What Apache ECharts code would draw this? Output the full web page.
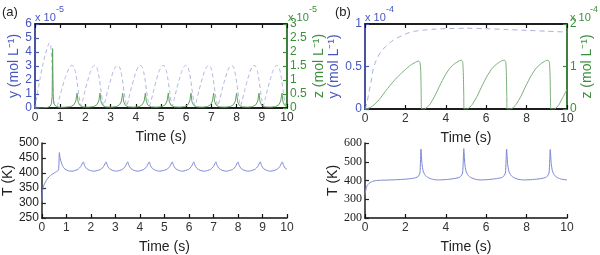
<!DOCTYPE html>
<html>
<head>
<meta charset="utf-8">
<script src="https://cdn.jsdelivr.net/npm/echarts@6/dist/echarts.min.js"></script>
<style>
html, body { margin: 0; padding: 0; background: #fff; }
#chart { width: 600px; height: 255px; }
</style>
</head>
<body>
<div id="chart"></div>
<script>
// (a) y, x10^-5 mol/L, left axis
var yA = [[0,0],[0.1,1.1],[0.2,2.1],[0.3,3.0],[0.4,3.8],[0.5,4.35],[0.57,4.65],[0.62,4.5],[0.67,3.3],[0.71,1.6],[0.75,0.5],[0.8,0.1],
  [0.88,0.15],[0.98,0.8],[1.08,1.45],[1.18,2.05],[1.28,2.55],[1.37,2.9],[1.46,3.05],[1.54,2.95],[1.6,2.6],[1.66,2.0],[1.72,1.2],[1.78,0.5],[1.83,0.15],
  [1.9,0.6],[2.0,1.35],[2.1,2.0],[2.2,2.6],[2.28,2.9],[2.36,3.05],[2.44,2.95],[2.5,2.6],[2.56,2.0],[2.62,1.2],[2.68,0.5],[2.73,0.15],
  [2.8,0.6],[2.9,1.35],[3.0,2.0],[3.1,2.6],[3.18,2.9],[3.27,3.05],[3.35,2.95],[3.41,2.6],[3.47,2.0],[3.53,1.2],[3.59,0.5],[3.64,0.15],
  [3.71,0.6],[3.81,1.35],[3.91,2.0],[4.01,2.6],[4.09,2.9],[4.17,3.05],[4.25,2.95],[4.31,2.6],[4.37,2.0],[4.43,1.2],[4.49,0.5],[4.54,0.15],
  [4.62,0.6],[4.72,1.35],[4.82,2.0],[4.92,2.6],[5.0,2.9],[5.08,3.05],[5.16,2.95],[5.22,2.6],[5.28,2.0],[5.34,1.2],[5.4,0.5],[5.45,0.15],
  [5.52,0.6],[5.62,1.35],[5.72,2.0],[5.82,2.6],[5.9,2.9],[5.98,3.05],[6.06,2.95],[6.12,2.6],[6.18,2.0],[6.24,1.2],[6.3,0.5],[6.35,0.15],
  [6.42,0.6],[6.52,1.35],[6.62,2.0],[6.72,2.6],[6.8,2.9],[6.88,3.05],[6.96,2.95],[7.02,2.6],[7.08,2.0],[7.14,1.2],[7.2,0.5],[7.25,0.15],
  [7.33,0.6],[7.43,1.35],[7.53,2.0],[7.63,2.6],[7.71,2.9],[7.79,3.05],[7.87,2.95],[7.93,2.6],[7.99,2.0],[8.05,1.2],[8.11,0.5],[8.16,0.15],
  [8.23,0.6],[8.33,1.35],[8.43,2.0],[8.53,2.6],[8.61,2.9],[8.69,3.05],[8.77,2.95],[8.83,2.6],[8.89,2.0],[8.95,1.2],[9.01,0.5],[9.06,0.15],
  [9.13,0.6],[9.23,1.35],[9.33,2.0],[9.43,2.6],[9.51,2.9],[9.59,3.05],[9.67,2.95],[9.73,2.6],[9.79,2.0],[9.85,1.2],[9.91,0.5],[9.96,0.15],[10,0.3]];

// (a) z, x10^-5 mol/L, right axis
var zA = [[0,0],[0.3,0.005],[0.5,0.02],[0.6,0.06],[0.65,0.15],[0.68,0.4],[0.7,2.12],[0.72,0.4],[0.75,0.15],[0.85,0.05],[1.0,0.02],[1.2,0.03],
  [1.42,0.05],[1.55,0.12],[1.62,0.25],[1.67,0.53],[1.71,0.22],[1.78,0.09],[1.9,0.04],[2.12,0.03],
  [2.33,0.05],[2.46,0.12],[2.53,0.25],[2.58,0.53],[2.62,0.22],[2.69,0.09],[2.81,0.04],[3.03,0.03],
  [3.23,0.05],[3.36,0.12],[3.43,0.25],[3.48,0.53],[3.52,0.22],[3.59,0.09],[3.71,0.04],[3.93,0.03],
  [4.13,0.05],[4.26,0.12],[4.33,0.25],[4.38,0.53],[4.42,0.22],[4.49,0.09],[4.61,0.04],[4.83,0.03],
  [5.04,0.05],[5.17,0.12],[5.24,0.25],[5.29,0.53],[5.33,0.22],[5.4,0.09],[5.52,0.04],[5.74,0.03],
  [5.94,0.05],[6.07,0.12],[6.14,0.25],[6.19,0.53],[6.23,0.22],[6.3,0.09],[6.42,0.04],[6.64,0.03],
  [6.84,0.05],[6.97,0.12],[7.04,0.25],[7.09,0.53],[7.13,0.22],[7.2,0.09],[7.32,0.04],[7.54,0.03],
  [7.75,0.05],[7.88,0.12],[7.95,0.25],[8.0,0.53],[8.04,0.22],[8.11,0.09],[8.23,0.04],[8.45,0.03],
  [8.64,0.05],[8.77,0.12],[8.84,0.25],[8.89,0.53],[8.93,0.22],[9.0,0.09],[9.12,0.04],[9.34,0.03],
  [9.55,0.05],[9.68,0.12],[9.75,0.25],[9.8,0.53],[9.84,0.22],[9.91,0.09],[10,0.05]];

// (a) T, K
var TA = [[0,305],[0.02,335],[0.05,352],[0.1,363],[0.2,378],[0.3,388],[0.4,395],[0.5,400],[0.6,405],[0.68,410],[0.71,468],[0.75,447],[0.82,428],[0.9,416],[1.0,410],[1.15,406],[1.3,407],
  [1.47,412],[1.59,422],[1.69,437],[1.74,425],[1.82,415],[1.94,409],[2.11,406],
  [2.4,412],[2.52,422],[2.62,437],[2.67,425],[2.75,415],[2.87,409],[3.04,406],
  [3.28,412],[3.4,422],[3.5,437],[3.55,425],[3.63,415],[3.75,409],[3.92,406],
  [4.16,412],[4.28,422],[4.38,437],[4.43,425],[4.51,415],[4.63,409],[4.8,406],
  [5.1,412],[5.22,422],[5.32,437],[5.37,425],[5.45,415],[5.57,409],[5.74,406],
  [5.98,412],[6.1,422],[6.2,437],[6.25,425],[6.33,415],[6.45,409],[6.62,406],
  [6.88,412],[7.0,422],[7.1,437],[7.15,425],[7.23,415],[7.35,409],[7.52,406],
  [7.78,412],[7.9,422],[8.0,437],[8.05,425],[8.13,415],[8.25,409],[8.42,406],
  [8.69,412],[8.81,422],[8.91,437],[8.96,425],[9.04,415],[9.16,409],[9.33,406],
  [9.59,412],[9.71,422],[9.81,437],[9.86,425],[9.94,415],[10,412]];

// (b) y, x10^-4 mol/L, left axis
var yB = [[0,0],[0.1,0.08],[0.2,0.2],[0.3,0.32],[0.4,0.46],[0.55,0.57],[0.75,0.66],[1.0,0.73],[1.4,0.81],[1.8,0.86],[2.2,0.9],[2.6,0.92],[3.0,0.93],[3.5,0.94],[4.0,0.945],[5.0,0.95],[6.0,0.945],[7.0,0.935],[8.0,0.925],[9.0,0.915],[10,0.905]];

// (b) z, x10^-4 mol/L, right axis
var zB = [[0,0],[0.25,0.03],[0.5,0.12],[0.75,0.25],[1.0,0.41],[1.25,0.56],[1.5,0.7],[1.75,0.82],[2.0,0.93],[2.25,1.03],[2.5,1.1],[2.65,1.13],[2.72,1.1],[2.76,0.9],[2.78,0.4],[2.8,0],[2.95,0],
  [3.2,0.1],[3.45,0.3],[3.7,0.55],[3.95,0.78],[4.2,0.96],[4.45,1.07],[4.65,1.13],[4.78,1.15],[4.84,1.1],[4.87,0.8],[4.89,0.3],[4.9,0],[5.06,0],
  [5.3,0.1],[5.55,0.3],[5.8,0.55],[6.05,0.78],[6.3,0.96],[6.55,1.07],[6.75,1.13],[6.9,1.15],[6.97,1.1],[7.0,0.8],[7.02,0.3],[7.03,0],[7.23,0],
  [7.47,0.1],[7.72,0.3],[7.97,0.55],[8.22,0.78],[8.47,0.96],[8.72,1.07],[8.92,1.13],[9.06,1.15],[9.13,1.1],[9.16,0.8],[9.18,0.3],[9.2,0],[9.38,0],
  [9.6,0.1],[9.8,0.28],[10,0.46]];

// (b) T, K
var TB = [[0,325],[0.05,355],[0.1,372],[0.2,385],[0.3,392],[0.45,398],[0.7,401],[1.0,402],[1.5,404],[2.0,407],[2.4,412],[2.62,420],[2.72,440],[2.77,567],[2.82,490],[2.88,450],[2.98,428],[3.13,415],[3.33,407],[3.6,403],
  [4.0,405],[4.4,410],[4.7,418],[4.83,440],[4.89,570],[4.94,490],[5.0,450],[5.1,428],[5.25,415],[5.45,407],[5.7,403],
  [6.1,405],[6.5,410],[6.82,418],[6.95,440],[7.01,567],[7.06,490],[7.12,450],[7.22,428],[7.37,415],[7.57,407],[7.84,403],
  [8.3,405],[8.7,410],[8.98,418],[9.11,440],[9.17,565],[9.22,490],[9.28,450],[9.38,428],[9.53,415],[9.73,407],[10,403]];

var BLUE = '#4657c0';
var GREEN = '#3d8f3d';
var FONT = 'Liberation Sans';

var chart = echarts.init(document.getElementById('chart'));

function xAx(grid, step, pos, labels, name) {
  return {
    type: 'value', gridIndex: grid, min: 0, max: 10, interval: step, position: pos,
    name: name || '', nameLocation: 'middle', nameGap: 22,
    nameTextStyle: { color: '#222', fontSize: 14, fontFamily: FONT },
    axisLine: { show: true, onZero: false, lineStyle: { color: '#111', width: 1.5 } },
    axisTick: { show: true, inside: true, length: 4, lineStyle: { color: '#111', width: 1.2 } },
    axisLabel: { show: labels, color: '#333', fontSize: 12, fontFamily: FONT, margin: 4 },
    splitLine: { show: false }
  };
}

function yAx(grid, min, max, step, pos, color, name, gap, labelFont) {
  return {
    type: 'value', gridIndex: grid, min: min, max: max, interval: step, position: pos,
    name: name, nameLocation: 'middle', nameGap: gap, nameRotate: 90,
    nameTextStyle: { color: color, fontSize: 14, fontFamily: FONT },
    axisLine: { show: true, onZero: false, lineStyle: { color: color, width: 1.5 } },
    axisTick: { show: true, inside: true, length: 4, lineStyle: { color: color, width: 1.2 } },
    axisLabel: { color: color, fontSize: 12, fontFamily: labelFont || FONT, margin: 3 },
    splitLine: { show: false }
  };
}

function txt(x, y, s, color, size) {
  return { type: 'text', left: x, top: y, style: { text: s, fill: color, font: size + 'px ' + FONT } };
}

var option = {
  animation: false,
  backgroundColor: '#fff',
  grid: [
    // top panels get a black frame (top edge), the coloured y axes draw over its sides
    { left: 35, top: 24, width: 252, height: 84, show: true, borderColor: '#111', borderWidth: 1.5, backgroundColor: 'transparent' },
    { left: 365, top: 24, width: 202, height: 85, show: true, borderColor: '#111', borderWidth: 1.5, backgroundColor: 'transparent' },
    { left: 35, top: 143, width: 252, height: 85 },
    { left: 365, top: 143, width: 202, height: 85 }
  ],
  xAxis: [
    xAx(0, 1, 'bottom', true, 'Time (s)'),
    xAx(0, 1, 'top', false),
    xAx(1, 2, 'bottom', true, 'Time (s)'),
    xAx(1, 2, 'top', false),
    xAx(2, 1, 'bottom', true, 'Time (s)'),
    xAx(3, 2, 'bottom', true, 'Time (s)')
  ],
  yAxis: [
    yAx(0, 0, 6, 1, 'left', BLUE, 'y (mol L⁻¹)', 12),
    yAx(0, 0, 3, 0.5, 'right', GREEN, 'z (mol L⁻¹)', 25),
    yAx(1, 0, 1, 0.5, 'left', BLUE, 'y (mol L⁻¹)', 18),
    yAx(1, 0, 2, 1, 'right', GREEN, 'z (mol L⁻¹)', 9),
    yAx(2, 250, 500, 50, 'left', '#222', 'T (K)', 26),
    yAx(3, 200, 600, 100, 'left', '#222', 'T (K)', 22, 'Liberation Serif')
  ],
  series: [
    { type: 'line', xAxisIndex: 0, yAxisIndex: 0, data: yA, showSymbol: false, smooth: 0.2,
      lineStyle: { color: '#b0b5de', width: 1, type: [4, 3] } },
    { type: 'line', xAxisIndex: 0, yAxisIndex: 1, data: zA, showSymbol: false,
      lineStyle: { color: '#62a262', width: 1 } },
    { type: 'line', xAxisIndex: 2, yAxisIndex: 2, data: yB, showSymbol: false, smooth: 0.3,
      lineStyle: { color: '#a8aedb', width: 1, type: [5, 4] } },
    { type: 'line', xAxisIndex: 2, yAxisIndex: 3, data: zB, showSymbol: false, smooth: 0.15,
      lineStyle: { color: '#7aae7a', width: 1 } },
    { type: 'line', xAxisIndex: 4, yAxisIndex: 4, data: TA, showSymbol: false, smooth: 0.2,
      lineStyle: { color: '#7c88d4', width: 1 } },
    { type: 'line', xAxisIndex: 5, yAxisIndex: 5, data: TB, showSymbol: false, smooth: 0.2,
      lineStyle: { color: '#7c88d4', width: 1 } }
  ],
  graphic: [
    txt(2, 6, '(a)', '#222', 13),
    txt(335, 6, '(b)', '#222', 13),
    txt(35, 12, 'x 10', BLUE, 11),
    txt(56, 5, '-5', BLUE, 9),
    txt(288, 12, 'x 10', GREEN, 11),
    txt(309, 5, '-5', GREEN, 9),
    txt(365, 12, 'x 10', BLUE, 11),
    txt(386, 5, '-4', BLUE, 9),
    txt(570, 12, 'x 10', GREEN, 11),
    txt(590, 5, '-4', GREEN, 9)
  ]
};

chart.setOption(option);
</script>
</body>
</html>
